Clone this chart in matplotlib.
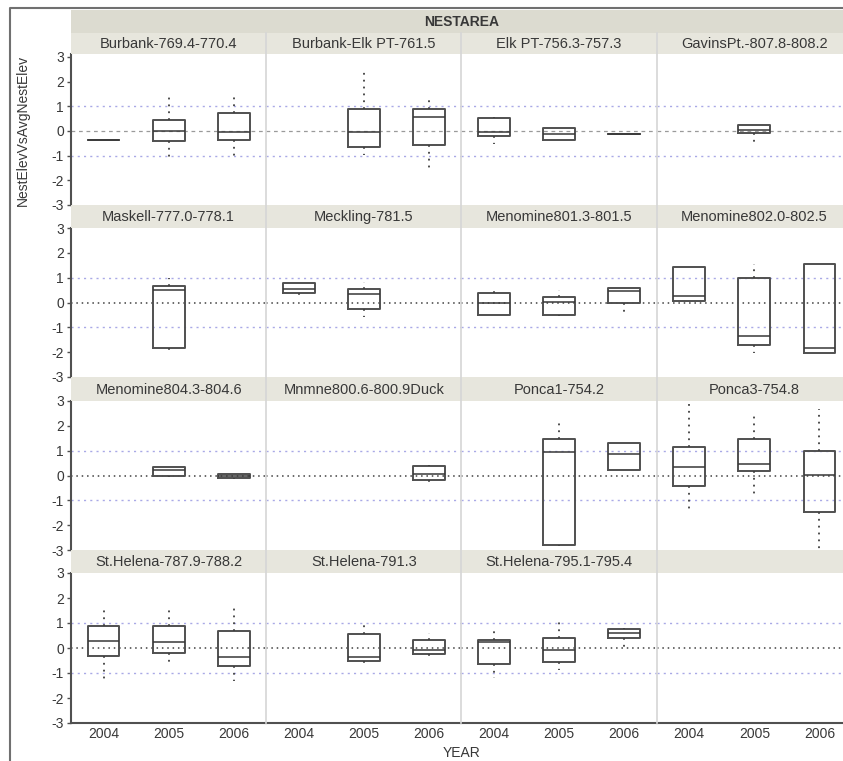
import matplotlib
matplotlib.use("Agg")
import matplotlib.pyplot as plt
from matplotlib.lines import Line2D
from matplotlib.patches import Rectangle

plt.rcParams["font.family"] = ["Liberation Sans", "DejaVu Sans"]

years = ["2004", "2005", "2006"]
areas = ["Burbank-769.4-770.4", "Burbank-Elk PT-761.5", "Elk PT-756.3-757.3", "GavinsPt.-807.8-808.2",
         "Maskell-777.0-778.1", "Meckling-781.5", "Menomine801.3-801.5", "Menomine802.0-802.5",
         "Menomine804.3-804.6", "Mnmne800.6-800.9Duck", "Ponca1-754.2", "Ponca3-754.8",
         "St.Helena-787.9-788.2", "St.Helena-791.3", "St.Helena-795.1-795.4", ""]

# (whisker low, q1, median, q3, whisker high) per year, None = no nests that year
burbank = [(-0.38, -0.38, -0.38, -0.38, -0.38), (-1.18, -0.39, -0.02, 0.45, 1.50), (-1.18, -0.35, -0.03, 0.72, 1.53)]
burbank_elk = [None, (-0.98, -0.63, -0.03, 0.91, 2.41), (-1.61, -0.56, 0.57, 0.91, 1.43)]
elk_pt = [(-0.53, -0.19, -0.03, 0.53, 0.55), (-0.35, -0.35, -0.11, 0.13, 0.13), (-0.11, -0.11, -0.11, -0.11, -0.11)]
gavins = [None, (-0.43, -0.09, 0.04, 0.23, 0.25), None]
maskell = [None, (-1.94, -1.84, 0.52, 0.68, 0.97), None]
meckling = [(0.30, 0.40, 0.55, 0.78, 0.80), (-0.58, -0.26, 0.33, 0.53, 0.83), None]
menomine801 = [(-0.50, -0.49, -0.01, 0.40, 0.63), (-0.54, -0.49, 0.03, 0.23, 0.50), (-0.54, 0.00, 0.48, 0.57, 0.57)]
menomine802 = [(0.05, 0.07, 0.27, 1.44, 1.44), (-2.02, -1.73, -1.35, 0.98, 1.54), (-2.02, -2.02, -1.84, 1.55, 1.55)]
menomine804 = [None, (-0.05, -0.03, 0.21, 0.35, 0.35), (-0.16, -0.10, -0.02, 0.05, 0.08)]
mnmne_duck = [None, None, (-0.28, -0.19, 0.06, 0.37, 0.44)]
ponca1 = [None, (-2.85, -2.80, 0.95, 1.46, 2.25), (0.24, 0.24, 0.88, 1.30, 1.30)]
ponca3 = [(-1.46, -0.44, 0.36, 1.14, 2.89), (-0.86, 0.20, 0.48, 1.46, 2.49), (-2.96, -1.47, 0.01, 0.98, 2.69)]
helena788 = [(-1.39, -0.30, 0.29, 0.87, 1.68), (-0.71, -0.18, 0.25, 0.87, 1.64), (-1.31, -0.71, -0.34, 0.68, 1.72)]
helena791 = [None, (-0.58, -0.51, -0.34, 0.55, 1.05), (-0.30, -0.24, -0.07, 0.31, 0.60)]
helena795 = [(-1.21, -0.63, 0.25, 0.31, 0.83), (-0.87, -0.54, -0.06, 0.39, 1.14), (0.04, 0.39, 0.62, 0.77, 0.80)]
empty = [None, None, None]

panels = [burbank, burbank_elk, elk_pt, gavins,
          maskell, meckling, menomine801, menomine802,
          menomine804, mnmne_duck, ponca1, ponca3,
          helena788, helena791, helena795, empty]

W, H = 843, 761
fig = plt.figure(figsize=(W / 100, H / 100), dpi=100)


def fx(px):
    return px / W


def fy(py):
    return 1 - py / H


def frect(x0, y0, x1, y1):
    return [fx(x0), fy(y1), fx(x1) - fx(x0), fy(y0) - fy(y1)]


left = 71
col_w = 195.25
row_top = [54, 228, 401, 573]
row_bot = [205, 377, 550, 723]
strip_top = [33, 205, 377, 550]
ylim_top = [3.12, 3, 3, 3]
dark = "#505050"
txt = "#383838"

# outer frame
fig.add_artist(Line2D([fx(10), fx(10), fx(W)], [fy(H), fy(8), fy(8)], color="#707070", lw=1.5))

# NESTAREA header band
x_right = left + 4 * col_w
fig.add_artist(Rectangle((fx(left), fy(33)), fx(x_right) - fx(left), fy(10) - fy(33),
                         transform=fig.transFigure, facecolor="#dcdbd0", edgecolor="none"))
fig.text(fx(left + 2 * col_w), fy(21.5), "NESTAREA", ha="center", va="center",
         fontsize=10, fontweight="bold", color=txt)

for r in range(4):
    for c in range(4):
        i = r * 4 + c
        x0 = left + c * col_w
        x1 = x0 + col_w
        # strip label
        fig.add_artist(Rectangle((fx(x0), fy(row_top[r])), fx(x1) - fx(x0), fy(strip_top[r]) - fy(row_top[r]),
                                 transform=fig.transFigure, facecolor="#e7e6dd", edgecolor="none"))
        fig.text(fx((x0 + x1) / 2), fy((strip_top[r] + row_top[r]) / 2 + 0.5), areas[i],
                 ha="center", va="center", fontsize=10.5, color=txt)

        ax = fig.add_axes(frect(x0, row_top[r], x1, row_bot[r]))
        ax.set_xlim(-0.5, 2.5)
        ax.set_ylim(-3, ylim_top[r])
        for s in ax.spines.values():
            s.set_visible(False)

        zero_style = dict(color="#9a9a9a", ls=(0, (3, 3)), lw=0.9) if r == 0 else \
            dict(color="#404040", ls=(0, (1, 2.5)), lw=1.1)
        ax.axhline(0, zorder=1, **zero_style)
        for ref in (1, -1):
            ax.axhline(ref, color="#a9a9e6", ls=(0, (1.5, 3)), lw=1.0, zorder=1)

        stats, pos = [], []
        for k, v in enumerate(panels[i]):
            if v is None:
                continue
            lo, q1, med, q3, hi = v
            stats.append(dict(whislo=lo, q1=q1, med=med, q3=q3, whishi=hi, fliers=[]))
            pos.append(k)
        if stats:
            ax.bxp(stats, positions=pos, widths=0.49, showcaps=False, showfliers=False,
                   boxprops=dict(color=dark, lw=1.4),
                   medianprops=dict(color="#383838", lw=1.1),
                   whiskerprops=dict(color="#404040", lw=1.3, ls=(0, (1, 2.8))),
                   manage_ticks=False)

        ax.set_xticks(range(3))
        if r == 3:
            ax.spines["bottom"].set_visible(True)
            ax.spines["bottom"].set_color(dark)
            ax.spines["bottom"].set_linewidth(1.5)
            ax.set_xticklabels(years)
            ax.tick_params(axis="x", length=0, pad=3, labelsize=10, labelcolor=txt)
        else:
            ax.tick_params(axis="x", length=0, labelbottom=False)

        ax.set_yticks(range(-3, 4))
        if c == 0:
            ax.spines["left"].set_visible(True)
            ax.spines["left"].set_color(dark)
            ax.spines["left"].set_linewidth(1.5)
            ax.set_yticklabels([str(t) for t in range(-3, 4)])
            ax.tick_params(axis="y", length=3, width=1, color=dark, pad=2, labelsize=10, labelcolor=txt)
        else:
            ax.tick_params(axis="y", length=0, labelleft=False)

# column dividers
for c in range(1, 4):
    xd = left + c * col_w
    fig.add_artist(Line2D([fx(xd), fx(xd)], [fy(33), fy(723)], color="#d6d6d6", lw=1.2))

fig.text(fx(23), fy(130), "NestElevVsAvgNestElev", rotation=90, ha="center", va="center",
         fontsize=10, color=txt)
fig.text(fx(left + 2 * col_w), fy(753), "YEAR", ha="center", va="center", fontsize=10, color=txt)

fig.savefig("out.png", dpi=100)
